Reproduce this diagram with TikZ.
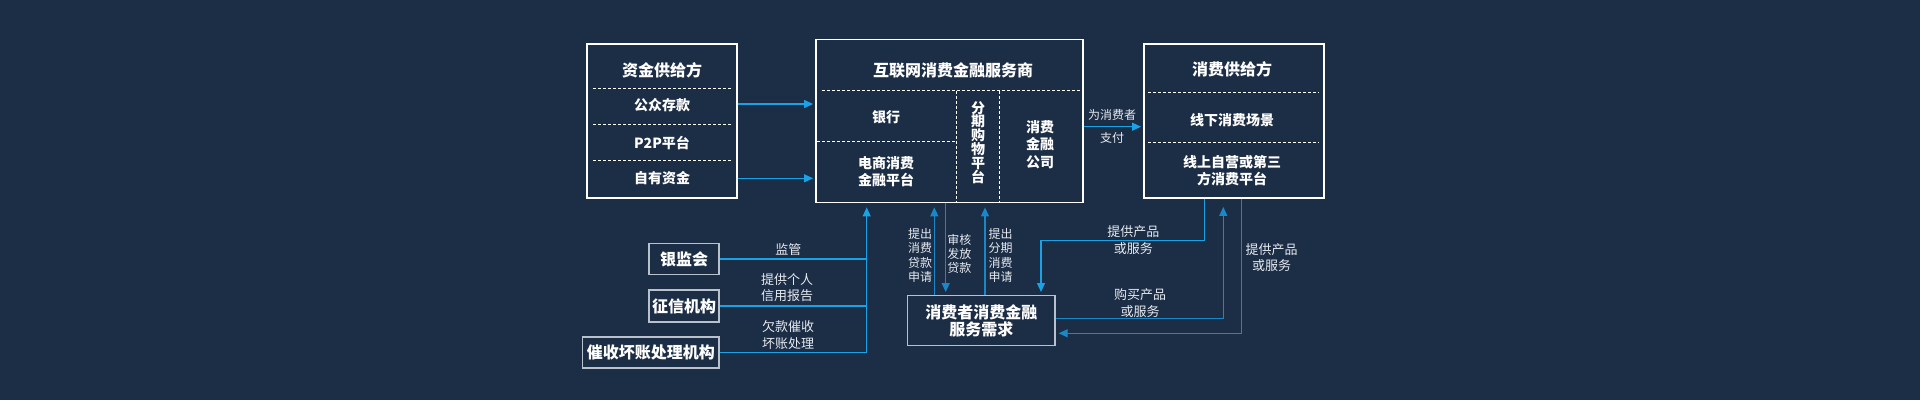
\documentclass[tikz,border=0pt]{standalone}
\usepackage{fontspec}
\setmainfont{Noto Sans CJK SC}
\usetikzlibrary{arrows.meta}
\definecolor{bg}{HTML}{1C2D46}
\definecolor{ab}{HTML}{1AA2E6}
\definecolor{ad}{HTML}{1A87C9}
\definecolor{sb}{HTML}{B9C1CC}
\definecolor{lg}{HTML}{E6EAF0}
\begin{document}
\begin{tikzpicture}[x=1pt,y=-1pt,
  bx/.style={draw=white,line width=1.8pt,inner sep=0pt},
  sbx/.style={draw=sb,line width=1.4pt,inner sep=0pt,text=white,font=\bfseries\fontsize{16}{19}\selectfont},
  ttl/.style={text=white,font=\bfseries\fontsize{16}{19}\selectfont},
  itm/.style={text=white,font=\bfseries\fontsize{14}{17}\selectfont,align=center},
  vtx/.style={text=white,font=\bfseries\fontsize{14}{13.8}\selectfont,align=center},
  lbl/.style={text=lg,font=\fontsize{13}{16.8}\selectfont,align=center},
  vlbl/.style={text=lg,font=\fontsize{12}{14.2}\selectfont,align=center},
  dsh/.style={white,line width=0.9pt,dash pattern=on 3pt off 2pt},
  arr/.style={ab,line width=1.2pt,-{Triangle[length=9pt,width=8pt]}},
  arrd/.style={ad,line width=1.2pt,-{Triangle[length=9pt,width=8pt]}},
  ln/.style={ab,line width=1.2pt}]
\useasboundingbox (0,0) rectangle (1920,400);
\fill[bg] (0,0) rectangle (1920,400);

% main boxes
\node[bx,minimum width=150pt,minimum height=154pt] (lb) at (662,121) {};
\node[bx,minimum width=267pt,minimum height=163pt] (mb) at (949.5,121) {};
\node[bx,minimum width=180pt,minimum height=154pt] (rb) at (1234,121) {};

% left box content
\node[ttl] (lt) at (662,70) {资金供给方};
\draw[dsh] (593,88.3) -- (732,88.3);
\node[itm] (l1) at (662,105) {公众存款};
\draw[dsh] (593,124.3) -- (732,124.3);
\node[itm] (l2) at (662,142.5) {P2P平台};
\draw[dsh] (593,160) -- (732,160);
\node[itm] (l3) at (662,178.5) {自有资金};

% middle box content
\node[ttl] (mt) at (953,70) {互联网消费金融服务商};
\draw[dsh] (821.7,90.7) -- (1080,90.7);
\draw[dsh] (956,90.7) -- (956,202);
\draw[dsh] (999,90.7) -- (999,202);
\draw[dsh] (817,141.7) -- (956,141.7);
\node[itm] (m1) at (886,117.3) {银行};
\node[itm] (m2) at (886,171.5) {电商消费\\金融平台};
\node[vtx] (m3) at (978,142.3) {分\\期\\购\\物\\平\\台};
\node[itm,font=\bfseries\fontsize{14}{17.5}\selectfont] (m4) at (1040,144.5) {消费\\金融\\公司};

% right box content
\node[ttl] (rt) at (1232,69.3) {消费供给方};
\draw[dsh] (1148,92.7) -- (1319,92.7);
\node[itm] (r1) at (1232,120) {线下消费场景};
\draw[dsh] (1148,142.3) -- (1319,142.3);
\node[itm] (r2) at (1232,170.8) {线上自营或第三\\方消费平台};

% arrows left -> middle
\coordinate (y1) at (0,104);
\coordinate (y2) at (0,178.3);
\draw[arr,shorten >=2pt] (lb.east |- y1) -- (mb.west |- y1);
\draw[arr,shorten >=2pt] (lb.east |- y2) -- (mb.west |- y2);

% middle -> right
\coordinate (y3) at (0,126.7);
\draw[arr,shorten >=2pt] (mb.east |- y3) -- (rb.west |- y3);
\node[vlbl] (pay1) at (1112,115) {为消费者};
\node[vlbl] (pay2) at (1112,138.3) {支付};

% small boxes
\node[sbx,minimum width=70pt,minimum height=30.7pt] (yjh) at (684,259) {银监会};
\node[sbx,minimum width=70pt,minimum height=32pt] (zx) at (684,306) {征信机构};
\node[sbx,minimum width=136.3pt,minimum height=30.7pt] (cs) at (650.8,352.5) {催收坏账处理机构};

\coordinate (tr) at (866.7,0);
\draw[ln] (yjh.east) -- (yjh.east -| tr);
\draw[ln] (zx.east) -- (zx.east -| tr);
\draw[ln] (cs.east) -- (cs.east -| tr);
\draw[arr,shorten >=4pt] (cs.east -| tr) -- (tr |- mb.south);
\node[lbl] (s1) at (788.3,250) {监管};
\node[lbl] (s2) at (787,287.6) {提供个人\\信用报告};
\node[lbl] (s3) at (788,335.3) {欠款催收\\坏账处理};

% consumer box
\node[sbx,minimum width=147.3pt,minimum height=50pt,align=center,font=\bfseries\fontsize{16}{17.3}\selectfont] (cn) at (981.3,320.7) {消费者消费金融\\服务需求};

\coordinate (v1) at (934.3,0);
\coordinate (v2) at (945.7,0);
\coordinate (v3) at (985,0);
\draw[arrd,shorten >=4pt] (cn.north -| v1) -- (mb.south -| v1);
\draw[arrd,shorten >=3pt] (mb.south -| v2) -- (cn.north -| v2);
\draw[arrd,shorten >=4pt] (cn.north -| v3) -- (mb.south -| v3);
\node[vlbl] (c1) at (920,255.5) {提出\\消费\\贷款\\申请};
\node[vlbl] (c2) at (959.3,254.2) {审核\\发放\\贷款};
\node[vlbl] (c3) at (1000.7,255.5) {提出\\分期\\消费\\申请};

% right box <-> consumer
\coordinate (w1) at (1204.3,240.7);
\coordinate (w1b) at (1041,240.7);
\draw[arr,shorten >=3pt] (rb.south -| w1) -- (w1) -- (w1b) -- (cn.north -| w1b);
\node[lbl] (p1) at (1133.3,239.7) {提供产品\\或服务};

\coordinate (w2) at (1223.3,318.3);
\draw[arrd,shorten >=8pt] (cn.east |- w2) -- (w2) -- (rb.south -| w2);
\node[lbl] (p2) at (1140,303) {购买产品\\或服务};

\coordinate (w3) at (1241.7,333.3);
\draw[arrd,shorten >=3pt] (rb.south -| w3) -- (w3) -- (cn.east |- w3);
\node[lbl] (p3) at (1271.7,257.5) {提供产品\\或服务};
\end{tikzpicture}
\end{document}
